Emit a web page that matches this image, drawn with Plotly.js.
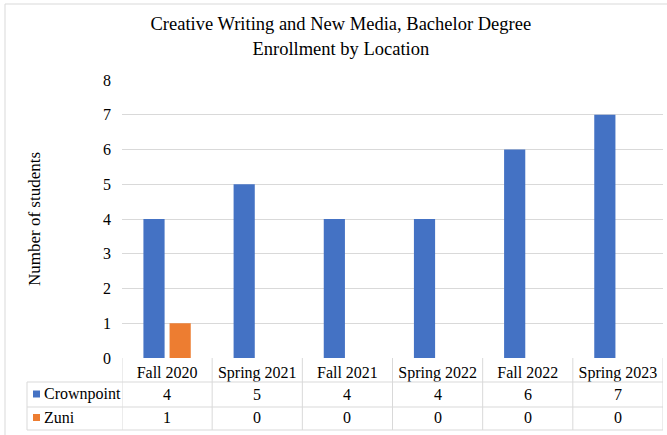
<!DOCTYPE html>
<html>
<head>
<meta charset="utf-8">
<script src="https://cdn.plot.ly/plotly-3.0.1.min.js"></script>
<style>html,body{margin:0;padding:0;background:#fff;}#chart{width:667px;height:435px;}</style>
</head>
<body>
<div id="chart"></div>
<script>
const categories = ["Fall 2020", "Spring 2021", "Fall 2021", "Spring 2022", "Fall 2022", "Spring 2023"];
const seriesNames = ["Crownpoint", "Zuni"];
const crownpoint = [4, 5, 4, 4, 6, 7];
const zuni = [1, 0, 0, 0, 0, 0];
const seriesColors = ["#4472C4", "#ED7D31"];
const yTicks = [0, 1, 2, 3, 4, 5, 6, 7, 8];

const FONT = "Liberation Serif";
const GRID = "#d9d9d9";
const plotH = 278, plotW = 541;
const py = px => -px / plotH;          // px below axis -> paper y
const pxX = px => (px - 122) / plotW;   // absolute px -> paper x

const seriesValues = [crownpoint, zuni];
const traces = seriesNames.map((n, i) => ({
  type: "bar", name: n, x: categories, y: seriesValues[i],
  marker: {color: seriesColors[i]}, showlegend: false, hoverinfo: "skip"
}));

const shapes = [];
const annotations = [];
[24, 49, 72].forEach(d => shapes.push({type: "line", xref: "paper", yref: "paper",
  x0: pxX(27), x1: 1, y0: py(d), y1: py(d), line: {color: GRID, width: 1}}));
shapes.push({type: "line", xref: "paper", yref: "paper", x0: pxX(27), x1: pxX(27),
  y0: py(24), y1: py(72), line: {color: GRID, width: 1}});
for (let i = 0; i <= categories.length; i++) {
  shapes.push({type: "line", xref: "x", yref: "paper", x0: i - 0.5, x1: i - 0.5,
    y0: 0, y1: py(72), line: {color: GRID, width: 1}});
}
shapes.push({type: "rect", xref: "paper", yref: "paper", x0: pxX(5), x1: pxX(668),
  y0: py(78), y1: 1 + 76 / plotH, line: {color: GRID, width: 1}});

const rowCenters = [36, 59.5];
seriesNames.forEach((n, r) => {
  shapes.push({type: "rect", xref: "paper", yref: "paper", x0: pxX(33), x1: pxX(40),
    y0: py(rowCenters[r] - 3.5), y1: py(rowCenters[r] + 3.5),
    fillcolor: seriesColors[r], line: {width: 0}});
  annotations.push({xref: "paper", yref: "paper", x: pxX(42), y: py(rowCenters[r]),
    xanchor: "left", yanchor: "middle", showarrow: false, text: n,
    font: {family: FONT, size: 16, color: "#000"}});
  categories.forEach((c, j) => {
    annotations.push({xref: "x", yref: "paper", x: c, y: py(rowCenters[r]),
      xanchor: "center", yanchor: "middle", showarrow: false, text: String(seriesValues[r][j]),
      font: {family: FONT, size: 16, color: "#000"}});
  });
});

const layout = {
  width: 667, height: 435,
  margin: {l: 122, r: 4, t: 80, b: 77},
  paper_bgcolor: "#fff", plot_bgcolor: "#fff",
  font: {family: FONT, color: "#000"},
  title: {text: "Creative Writing and New Media, Bachelor Degree<br>Enrollment by Location",
    font: {family: FONT, size: 18.5, color: "#000"},
    xref: "container", x: 0.511, xanchor: "center", yref: "container", y: 0.93, yanchor: "top"},
  barmode: "group", bargap: 0.42, bargroupgap: 0.19,
  xaxis: {type: "category", range: [-0.5, 5.5], showgrid: false, zeroline: false,
    showline: false, ticks: "", ticklabelstandoff: 3, automargin: false,
    tickfont: {family: FONT, size: 16, color: "#000"}, fixedrange: true},
  yaxis: {range: [0, 8], tickvals: yTicks, showgrid: true, gridcolor: GRID, gridwidth: 1,
    zeroline: false, showline: false, ticks: "", ticklabelstandoff: 10, automargin: false,
    tickfont: {family: FONT, size: 16, color: "#000"},
    title: {text: "Number of students", font: {family: FONT, size: 17, color: "#000"}, standoff: 58},
    fixedrange: true},
  shapes: shapes, annotations: annotations
};
Plotly.newPlot("chart", traces, layout, {displayModeBar: false, staticPlot: true});
</script>
</body>
</html>
